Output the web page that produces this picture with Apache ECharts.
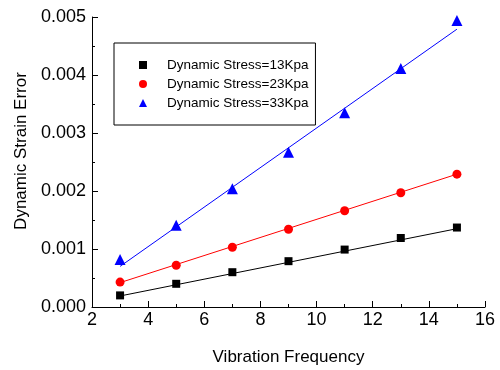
<!DOCTYPE html>
<html>
<head>
<meta charset="UTF-8">
<title>Dynamic Strain Error</title>
<script src="https://cdn.jsdelivr.net/npm/echarts@6/dist/echarts.min.js"></script>
<style>
html, body { margin: 0; padding: 0; background: #fff; }
#chart { width: 500px; height: 370px; }
</style>
</head>
<body>
<div id="chart"></div>
<script>
// values
var freq = [3, 5, 7, 9, 11, 13, 15];
var stress13 = [0.00020, 0.00040, 0.00060, 0.00079, 0.00099, 0.00119, 0.00137];
var stress23 = [0.00043, 0.00072, 0.00103, 0.00134, 0.00166, 0.00197, 0.00229];
var stress33 = [0.00082, 0.00141, 0.00204, 0.00267, 0.00335, 0.00411, 0.00494];
// linear fit lines, end points
var fitX = [3, 15];
var fit13 = [0.00019, 0.00135];
var fit23 = [0.00042, 0.00229];
var fit33 = [0.00070, 0.00479];
var names = ['Dynamic Stress=13Kpa', 'Dynamic Stress=23Kpa', 'Dynamic Stress=33Kpa'];

var font = '"Liberation Sans", Arial, sans-serif';

function pairs(xs, ys) {
  var out = [];
  for (var i = 0; i < xs.length; i++) out.push([xs[i], ys[i]]);
  return out;
}

var myChart = echarts.init(document.getElementById('chart'));
var option = {
  animation: false,
  grid: { left: 92, right: 15, top: 17, bottom: 63, outerBoundsMode: 'none' },
  legend: {
    orient: 'vertical',
    left: 114, top: 43,
    data: names,
    borderColor: '#000', borderWidth: 1,
    padding: [15, 7, 15, 25],
    itemWidth: 8, itemHeight: 8, itemGap: 5,
    textStyle: { fontFamily: font, fontSize: 13.5, color: '#000', padding: [0, 0, 0, 15] }
  },
  xAxis: {
    type: 'value', min: 2, max: 16, interval: 2,
    name: 'Vibration Frequency', nameLocation: 'middle', nameGap: 42,
    nameTextStyle: { fontFamily: font, fontSize: 17, color: '#000' },
    axisLine: { lineStyle: { color: '#000', width: 1 } },
    axisTick: { inside: true, length: 6, lineStyle: { color: '#000' } },
    minorTick: { show: true, splitNumber: 2, length: 3, lineStyle: { color: '#000' } },
    axisLabel: { fontFamily: font, fontSize: 18, color: '#000', margin: 4 },
    splitLine: { show: false }
  },
  yAxis: {
    type: 'value', min: 0, max: 0.005, interval: 0.001,
    name: 'Dynamic Strain Error', nameLocation: 'middle', nameGap: 62,
    nameTextStyle: { fontFamily: font, fontSize: 17, color: '#000', padding: [0, 0, 0, 22] },
    axisLine: { show: true, lineStyle: { color: '#000', width: 1 } },
    axisTick: { show: true, inside: true, length: 6, lineStyle: { color: '#000' } },
    minorTick: { show: true, splitNumber: 2, length: 3, lineStyle: { color: '#000' } },
    axisLabel: {
      fontFamily: font, fontSize: 18, color: '#000', margin: 6,
      formatter: function (v) { return v.toFixed(3); }
    },
    splitLine: { show: false }
  },
  series: [
    { name: 'fit13', type: 'line', data: pairs(fitX, fit13), showSymbol: false, silent: true,
      lineStyle: { color: '#000', width: 1 } },
    { name: 'fit23', type: 'line', data: pairs(fitX, fit23), showSymbol: false, silent: true,
      lineStyle: { color: '#ff0000', width: 1 } },
    { name: 'fit33', type: 'line', data: pairs(fitX, fit33), showSymbol: false, silent: true,
      lineStyle: { color: '#0000ff', width: 1 } },
    { name: names[0], type: 'scatter', symbol: 'rect', symbolSize: 8,
      data: pairs(freq, stress13), itemStyle: { color: '#000', opacity: 1 } },
    { name: names[1], type: 'scatter', symbol: 'circle', symbolSize: 9,
      data: pairs(freq, stress23), itemStyle: { color: '#ff0000', opacity: 1 } },
    { name: names[2], type: 'scatter', symbol: 'triangle', symbolSize: 11,
      data: pairs(freq, stress33), itemStyle: { color: '#0000ff', opacity: 1 } }
  ]
};
myChart.setOption(option);
</script>
</body>
</html>
